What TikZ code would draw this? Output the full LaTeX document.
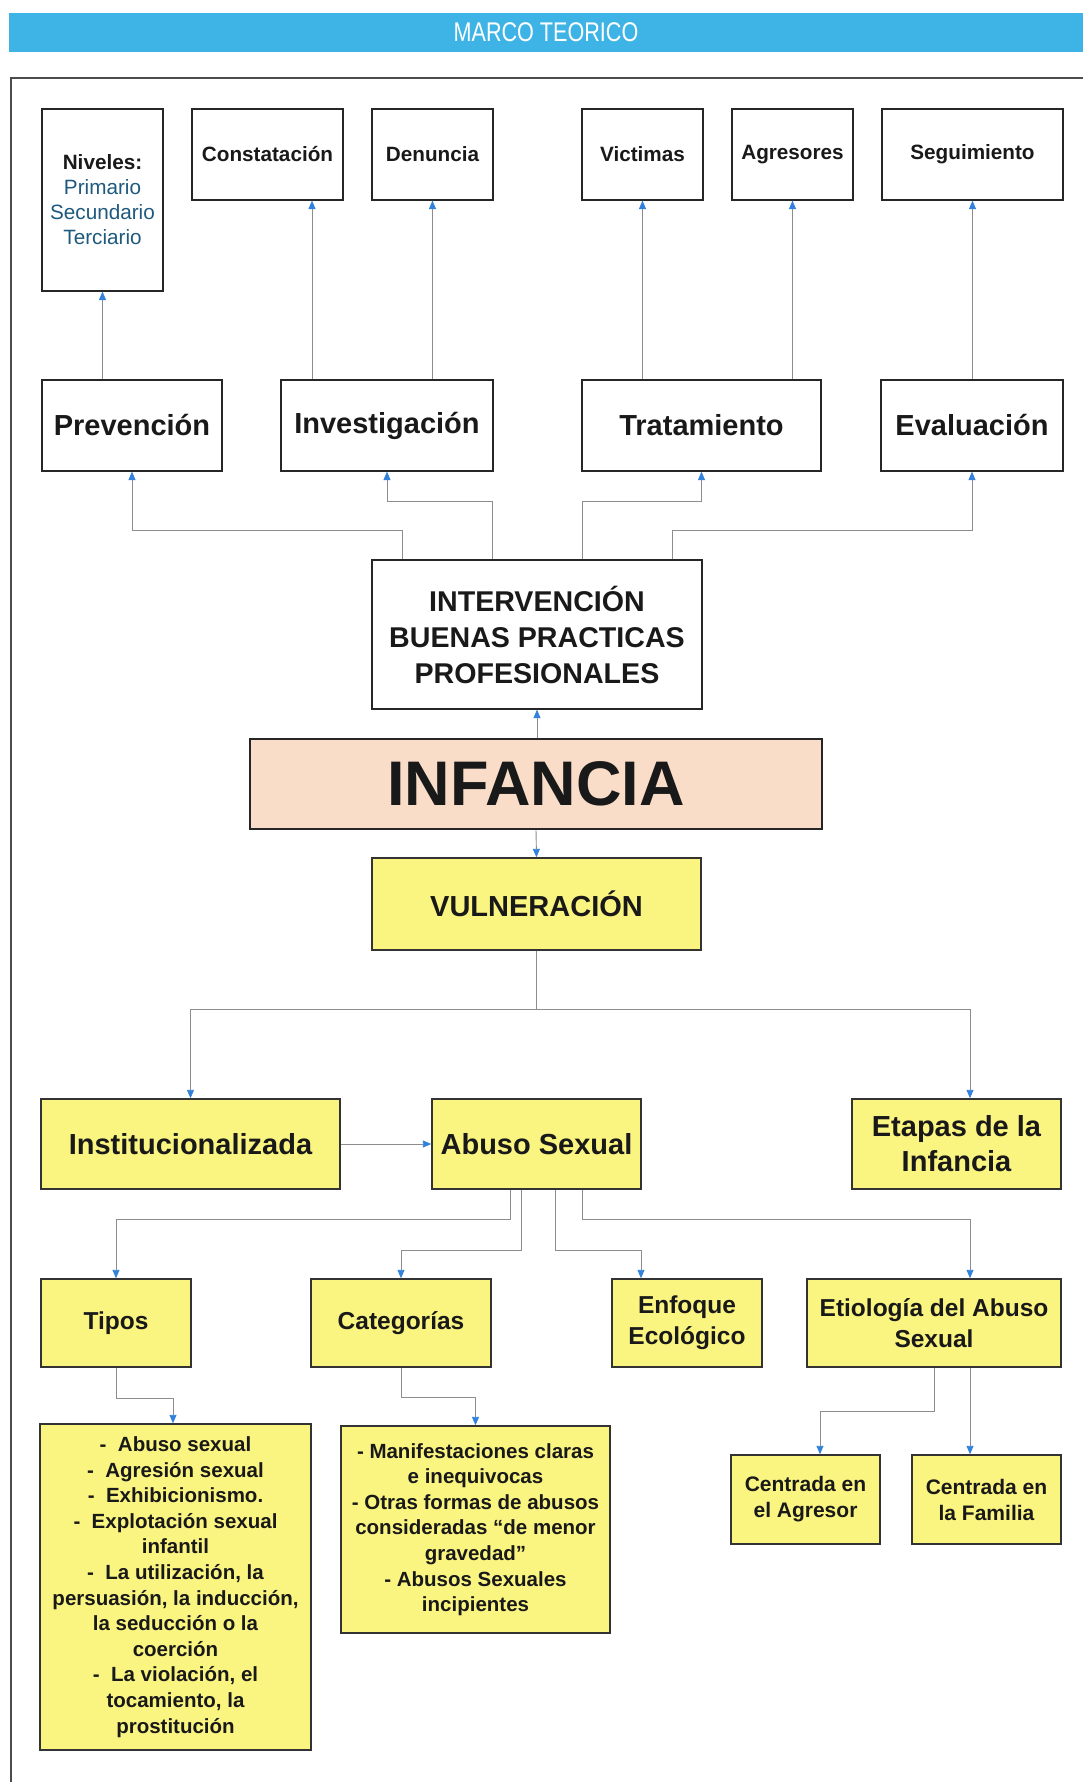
\documentclass[tikz,border=0pt]{standalone}
\usepackage{fontspec}
\setmainfont{Liberation Sans}
\usetikzlibrary{arrows.meta,calc}
\definecolor{barblue}{RGB}{62,180,230}
\definecolor{arrowblue}{RGB}{50,130,220}
\definecolor{yel}{RGB}{250,244,128}
\definecolor{peach}{RGB}{249,221,200}
\definecolor{tealtxt}{RGB}{30,90,125}
\definecolor{linegray}{RGB}{140,140,145}
\newcommand\fsz[2]{\fontsize{#1}{#2}\selectfont}
\tikzset{
  box/.style={draw=black!85, line width=1.2pt, inner sep=2pt, align=center, text=black!90},
  ybox/.style={box, fill=yel, draw=black!80, line width=1.4pt},
  conn/.style={draw=linegray, line width=0.9pt, -{Triangle[length=8.5pt,width=7pt,color=arrowblue,fill=arrowblue]}},
  bigf/.style={font=\bfseries\fsz{29}{35}},
  smallf/.style={font=\bfseries\fsz{20.7}{25}},
  midf/.style={font=\bfseries\fsz{24.5}{31}},
  listf/.style={font=\bfseries\fsz{20.5}{25.6}},
}
\begin{document}
\begin{tikzpicture}[x=1pt,y=-1pt]
\useasboundingbox (0,0) rectangle (1083,1782);
\fill[white] (0,0) rectangle (1083,1782);

% title bar
\node[fill=barblue, minimum width=1074pt, minimum height=39pt, inner sep=0pt, text=white, font=\fsz{27}{30}] (bar) at (546,32.5) {\scalebox{0.8}[1]{MARCO TEORICO}};
% frame
\draw[black!70, line width=1.5pt] (1083,78) -- (11,78) -- (11,1782);

% top row
\node[box, minimum width=121pt, minimum height=182pt, font=\fsz{20.7}{25}] (niv) at (102.5,200)
  {\textbf{Niveles:}\\\textcolor{tealtxt}{Primario}\\\textcolor{tealtxt}{Secundario}\\\textcolor{tealtxt}{Terciario}};
\node[box, smallf, minimum width=151pt, minimum height=91pt] (constat) at (267.5,154.5) {Constatación};
\node[box, smallf, minimum width=121pt, minimum height=91pt] (denun) at (432.5,154.5) {Denuncia};
\node[box, smallf, minimum width=121pt, minimum height=91pt] (vict) at (642.5,154.5) {Victimas};
\node[box, smallf, minimum width=121pt, minimum height=91pt] (agres) at (792.5,154.5) {Agresores};
\node[box, smallf, minimum width=181pt, minimum height=91pt] (segui) at (972.5,154.5) {Seguimiento};

% second row
\node[box, bigf, minimum width=180pt, minimum height=91pt] (prev) at (132,425.5) {Prevención};
\node[box, bigf, minimum width=212pt, minimum height=91pt] (inv) at (387,425.5) {Investigación};
\node[box, bigf, minimum width=239pt, minimum height=91pt] (trat) at (701.5,425.5) {Tratamiento};
\node[box, bigf, minimum width=182pt, minimum height=91pt] (eval) at (972,425.5) {Evaluación};

% center
\node[box, font=\bfseries\fsz{28.6}{36}, minimum width=330pt, minimum height=149pt] (interv) at (537,634.5)
  {INTERVENCIÓN\\BUENAS PRACTICAS\\PROFESIONALES};
\node[box, fill=peach, line width=1.5pt, font=\bfseries\fsz{63}{70}, minimum width=572pt, minimum height=90pt] (inf) at (536,784) {INFANCIA};
\node[ybox, bigf, minimum width=329pt, minimum height=92pt] (vuln) at (536.5,904) {VULNERACIÓN};

% lower rows
\node[ybox, bigf, minimum width=299pt, minimum height=90pt] (inst) at (190.5,1144) {Institucionalizada};
\node[ybox, bigf, minimum width=209pt, minimum height=90pt] (abuso) at (536.5,1144) {Abuso Sexual};
\node[ybox, bigf, minimum width=209pt, minimum height=90pt] (etapas) at (956.5,1144) {Etapas de la\\Infancia};

\node[ybox, midf, minimum width=150pt, minimum height=88pt] (tipos) at (116,1323) {Tipos};
\node[ybox, midf, minimum width=180pt, minimum height=88pt] (categ) at (401,1323) {Categorías};
\node[ybox, midf, minimum width=150pt, minimum height=88pt] (enfoq) at (687,1323) {Enfoque\\Ecológico};
\node[ybox, midf, minimum width=254pt, minimum height=88pt] (etiol) at (934,1323) {Etiología del Abuso\\Sexual};

\node[ybox, listf, minimum width=271pt, minimum height=326pt] (list1) at (175.5,1587)
  {-\ \ Abuso sexual\\-\ \ Agresión sexual\\-\ \ Exhibicionismo.\\-\ \ Explotación sexual\\infantil\\-\ \ La utilización, la\\persuasión, la inducción,\\la seducción o la\\coerción\\-\ \ La violación, el\\tocamiento, la\\prostitución};
\node[ybox, listf, minimum width=269pt, minimum height=207pt] (list2) at (475.5,1529.5)
  {- Manifestaciones claras\\e inequivocas\\- Otras formas de abusos\\consideradas “de menor\\gravedad”\\- Abusos Sexuales\\incipientes};
\node[ybox, font=\bfseries\fsz{21}{26}, minimum width=149pt, minimum height=89pt] (agr2) at (805.5,1499.5) {Centrada en\\el Agresor};
\node[ybox, font=\bfseries\fsz{21}{26}, minimum width=149pt, minimum height=89pt] (fam) at (986.5,1499.5) {Centrada en\\la Familia};

% connectors top
\draw[conn] (niv.south |- prev.north) -- (niv.south);
\draw[conn] ([xshift=44.5pt]constat.south |- inv.north) -- ([xshift=44.5pt]constat.south);
\draw[conn] (denun.south |- inv.north) -- (denun.south);
\draw[conn] (vict.south |- trat.north) -- (vict.south);
\draw[conn] (agres.south |- trat.north) -- (agres.south);
\draw[conn] (segui.south |- eval.north) -- (segui.south);

\draw[conn] ([xshift=-135pt]interv.north) -- ++(0,-29) -| (prev.south);
\draw[conn] ([xshift=-45pt]interv.north) -- ++(0,-58) -| (inv.south);
\draw[conn] ([xshift=45pt]interv.north) -- ++(0,-58) -| (trat.south);
\draw[conn] ([xshift=135pt]interv.north) -- ++(0,-29) -| (eval.south);

\draw[conn] (interv.south |- inf.north) -- (interv.south);
\draw[conn] (inf.south) -- (vuln.north);

% connectors lower
\draw[conn] (vuln.south) -- ++(0,59) -| (inst.north);
\draw[conn] (vuln.south) -- ++(0,59) -| ([xshift=13.5pt]etapas.north);
\draw[conn] (inst.east) -- (abuso.west);
\draw[conn] ([xshift=-26.5pt]abuso.south) -- ++(0,30) -| (tipos.north);
\draw[conn] ([xshift=-15.5pt]abuso.south) -- ++(0,61) -| (categ.north);
\draw[conn] ([xshift=18.5pt]abuso.south) -- ++(0,61) -| ([xshift=-46pt]enfoq.north);
\draw[conn] ([xshift=45.5pt]abuso.south) -- ++(0,30) -| ([xshift=36pt]etiol.north);
\draw[conn] (tipos.south) -- ++(0,31) -| ([xshift=-2.5pt]list1.north);
\draw[conn] (categ.south) -- ++(0,30) -| (list2.north);
\draw[conn] (etiol.south) -- ++(0,44) -| ([xshift=14.5pt]agr2.north);
\draw[conn] ([xshift=36pt]etiol.south) -- ([xshift=-16.5pt]fam.north);
\end{tikzpicture}
\end{document}
